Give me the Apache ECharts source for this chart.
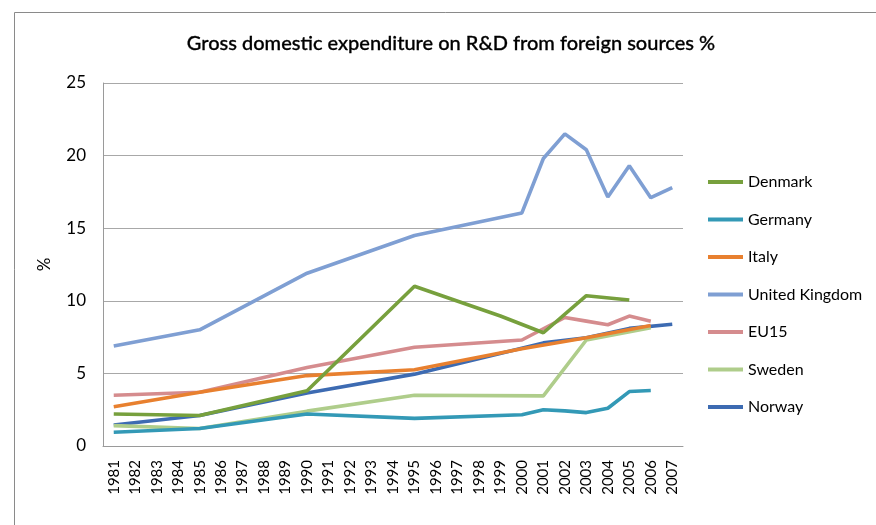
<!DOCTYPE html>
<html>
<head>
<meta charset="utf-8">
<script src="https://cdn.jsdelivr.net/npm/echarts@6/dist/echarts.min.js"></script>
<style>
html,body{margin:0;padding:0;background:#fff;}
#chart{width:876px;height:525px;}
</style>
</head>
<body>
<div id="chart"></div>
<script>
// Categories (years)
var years = ['1981','1982','1983','1984','1985','1986','1987','1988','1989','1990',
  '1991','1992','1993','1994','1995','1996','1997','1998','1999','2000',
  '2001','2002','2003','2004','2005','2006','2007'];

// Series values (null = no observation; Excel connected the gaps)
//                 1981 82   83   84   1985 86   87   88   89   1990 91   92   93   94   1995 96   97   98   99    2000 2001 2002 2003  2004 2005  2006 2007
var denmark   = [2.2, null,null,null,2.1, null,null,null,null,3.8, null,null,null,null,11.0,null,null,null,8.95, null,7.8, null,10.35,null,10.05,null,null];
var germany   = [0.95,null,null,null,1.2, null,null,null,null,2.2, null,null,null,null,1.9, null,null,null,null, 2.15,2.5, 2.42,2.3, 2.6, 3.75, 3.82,null];
var italy     = [2.7, null,null,null,3.7, null,null,null,null,4.85,null,null,null,null,5.25,null,null,null,null, 6.7, null,null,7.45, null,null, 8.3, null];
var uk        = [6.88,null,null,null,8.0, null,null,null,null,11.9,null,null,null,null,14.5,null,null,null,null, 16.05,19.8,21.5,20.4, 17.15,19.3,17.1,17.8];
var eu15      = [3.5, null,null,null,3.7, null,null,null,null,5.4, null,null,null,null,6.8, null,null,null,null, 7.3, null,8.85,8.6,  8.35,8.95, 8.6, null];
var sweden    = [1.4, null,null,null,1.2, null,null,null,null,2.4, null,null,null,null,3.5, null,null,null,null, null,3.45,null,7.3,  null,null, 8.15,null];
var norway    = [1.45,null,null,null,2.1, null,null,null,null,3.65,null,null,null,null,4.95,null,null,null,null, null,7.1, null,7.45, null,8.1,  null,8.38];

var seriesNames = ['Denmark','Germany','Italy','United Kingdom','EU15','Sweden','Norway'];
var seriesData  = [denmark, germany, italy, uk, eu15, sweden, norway];
var seriesColors = ['#77A03D','#3399B6','#E8802F','#7F9FD3','#D58C8E','#AFCD8B','#3D6BB2'];

// Y axis ticks
var yMin = 0, yMax = 25, yStep = 5;

var FONT = 'Lato, "Open Sans", sans-serif';

var chart = echarts.init(document.getElementById('chart'), null, {renderer:'canvas'});

var series = seriesNames.map(function(n, i){
  return {
    name: n,
    type: 'line',
    data: seriesData[i],
    connectNulls: true,
    showSymbol: false,
    symbol: 'none',
    lineStyle: {width: 3.6, color: seriesColors[i]},
    itemStyle: {color: seriesColors[i]},
    z: 10 - i,
    animation: false
  };
});

chart.setOption({
  animation: false,
  backgroundColor: '#fff',
  graphic: [{
    type: 'rect',
    left: 12, top: 10,
    shape: {width: 900, height: 600},
    style: {fill: 'none', stroke: '#8a8a8a', lineWidth: 1},
    silent: true
  }],
  title: {
    text: 'Gross domestic expenditure on R&D from foreign sources %',
    left: 446, top: 29, textAlign: 'center',
    textStyle: {fontFamily: FONT, fontSize: 20, fontWeight: 500, color: '#000', textBorderColor: '#000', textBorderWidth: 0.3}
  },
  legend: {
    orient: 'vertical',
    left: 708, top: 173,
    padding: 0,
    icon: 'rect',
    itemWidth: 35, itemHeight: 4,
    itemGap: 19.5,
    textStyle: {fontFamily: FONT, fontSize: 16, color: '#000', lineHeight: 18},
    data: seriesNames
  },
  grid: {left: 103, right: 193, top: 83, bottom: 79, containLabel: false},
  xAxis: {
    type: 'category',
    data: years,
    boundaryGap: true,
    axisLine: {lineStyle: {color: '#9a9a9a', width: 1}},
    axisTick: {show: false},
    axisLabel: {rotate: 90, fontFamily: FONT, fontSize: 15, color: '#000', margin: 14, interval: 0}
  },
  yAxis: {
    type: 'value',
    min: yMin, max: yMax, interval: yStep,
    name: '%',
    nameLocation: 'middle',
    nameRotate: 90,
    nameGap: 50,
    nameTextStyle: {fontFamily: FONT, fontSize: 17, color: '#000'},
    axisLine: {show: true, lineStyle: {color: '#9a9a9a', width: 1}},
    axisTick: {show: false},
    axisLabel: {fontFamily: FONT, fontSize: 17, color: '#000', margin: 17},
    splitLine: {lineStyle: {color: '#a8a8a8', width: 1}}
  },
  series: series
});
</script>
</body>
</html>
